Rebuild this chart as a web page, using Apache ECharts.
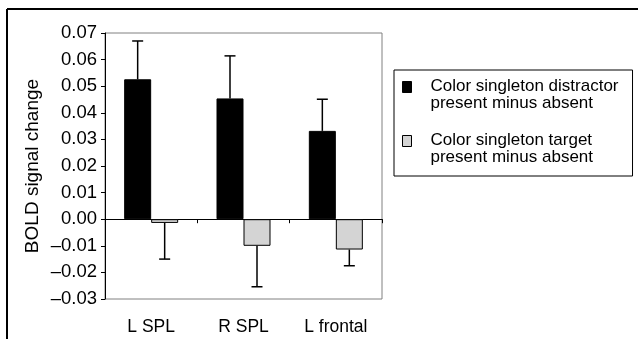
<!DOCTYPE html>
<html>
<head>
<meta charset="utf-8">
<script src="https://cdn.jsdelivr.net/npm/echarts@6/dist/echarts.min.js"></script>
<style>
html,body{margin:0;padding:0;background:#fff;}
#c{width:638px;height:339px;}
</style>
</head>
<body>
<div id="c"></div>
<script>
var categories = ['L SPL', 'R SPL', 'L frontal'];
var seriesNames = ['Color singleton distractor\npresent minus absent', 'Color singleton target\npresent minus absent'];
var distractor = [0.0526, 0.0454, 0.0332];
var distractorErrEnd = [0.0670, 0.0614, 0.0451];
var target = [-0.0014, -0.0100, -0.0114];
var targetErrEnd = [-0.0150, -0.0254, -0.0175];

var BAR_W = 27;
var FONT = 'Liberation Sans, Arial, sans-serif';

function errData(vals, ends) {
  return vals.map(function (v, i) { return [i, v, ends[i]]; });
}
function makeErr(offset) {
  return function (params, api) {
    var i = api.value(0);
    var p0 = api.coord([i, api.value(1)]);
    var p1 = api.coord([i, api.value(2)]);
    var x = p0[0] + offset;
    var cap = 5.5;
    var st = { stroke: '#000', lineWidth: 1.5 };
    return {
      type: 'group',
      children: [
        { type: 'line', shape: { x1: x, y1: p0[1], x2: x, y2: p1[1] }, style: st },
        { type: 'line', shape: { x1: x - cap, y1: p1[1], x2: x + cap, y2: p1[1] }, style: st }
      ]
    };
  };
}

var chart = echarts.init(document.getElementById('c'), null, { renderer: 'canvas' });
chart.setOption({
  animation: false,
  backgroundColor: '#fff',
  textStyle: { fontFamily: FONT },
  graphic: [
    { type: 'line', shape: { x1: 7, y1: 9, x2: 638, y2: 9 }, style: { stroke: '#000', lineWidth: 2 } },
    { type: 'line', shape: { x1: 7, y1: 9, x2: 7, y2: 339 }, style: { stroke: '#000', lineWidth: 2 } }
  ],
  grid: { left: 105, right: 256, top: 33, bottom: 40, show: true, borderColor: '#808080', borderWidth: 1, backgroundColor: 'transparent' },
  legend: {
    orient: 'vertical',
    left: 394, top: 70,
    padding: [8, 14, 10, 8],
    itemGap: 20,
    itemWidth: 9, itemHeight: 27,
    borderColor: '#000', borderWidth: 1,
    icon: 'path://M0,0h9v11h-9z M0,27',
    itemStyle: { borderColor: '#000', borderWidth: 1 },
    textStyle: { fontSize: 17, lineHeight: 17, color: '#000', fontFamily: FONT, padding: [0, 0, 0, 14] },
    data: seriesNames
  },
  xAxis: [
    {
      type: 'category', data: categories, gridIndex: 0,
      axisLine: { show: false, onZero: false },
      axisTick: { show: false },
      axisLabel: { fontSize: 17.5, color: '#000', margin: 19, fontFamily: FONT }
    },
    {
      type: 'category', data: categories, gridIndex: 0, position: 'bottom',
      axisLine: { show: true, onZero: true, lineStyle: { color: '#000', width: 1 } },
      axisTick: { show: true, length: 4, lineStyle: { color: '#000' } },
      axisLabel: { show: false }
    }
  ],
  yAxis: {
    type: 'value', min: -0.03, max: 0.07, interval: 0.01,
    name: 'BOLD signal change', nameLocation: 'middle', nameGap: 63,
    nameTextStyle: { fontSize: 19, color: '#000', fontFamily: FONT },
    splitLine: { show: false },
    axisLine: { show: true, lineStyle: { color: '#000', width: 1 } },
    axisTick: { show: true, length: 4, lineStyle: { color: '#000' } },
    axisLabel: {
      fontSize: 18.5, color: '#000', margin: 8, fontFamily: FONT,
      formatter: function (v) { return (v < -1e-9 ? '\u2013' : '') + Math.abs(v).toFixed(2); }
    }
  },
  series: [
    {
      name: seriesNames[0], type: 'bar', data: distractor, xAxisIndex: 0,
      barWidth: BAR_W, barGap: '0%',
      itemStyle: { color: '#000', borderColor: '#000', borderWidth: 1 }
    },
    {
      name: seriesNames[1], type: 'bar', data: target, xAxisIndex: 0,
      barWidth: BAR_W, barGap: '0%',
      itemStyle: { color: '#d4d4d4', borderColor: '#000', borderWidth: 1 }
    },
    {
      type: 'custom', xAxisIndex: 0, z: 5,
      data: errData(distractor, distractorErrEnd),
      encode: { x: 0, y: [1, 2] },
      renderItem: makeErr(-BAR_W / 2)
    },
    {
      type: 'custom', xAxisIndex: 0, z: 5,
      data: errData(target, targetErrEnd),
      encode: { x: 0, y: [1, 2] },
      renderItem: makeErr(BAR_W / 2)
    }
  ]
});
</script>
</body>
</html>
